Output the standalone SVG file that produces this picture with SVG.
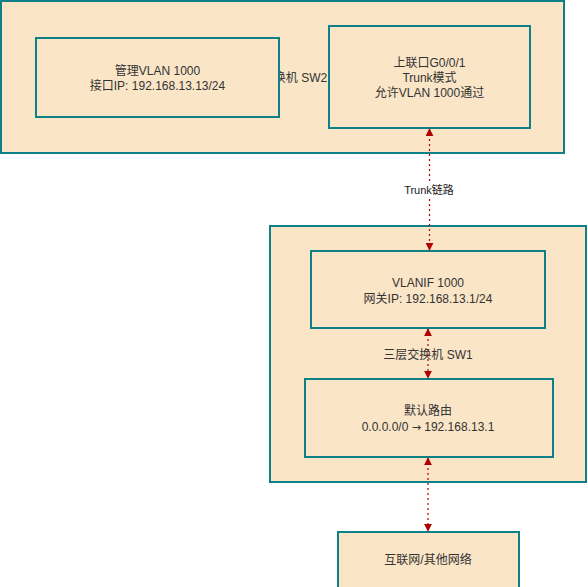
<svg xmlns="http://www.w3.org/2000/svg" width="588" height="587" viewBox="0 0 588 587">
<defs>
<style>
.box{fill:#fae5c7;stroke:#0e8088;stroke-width:2}
.t{font-family:"Liberation Sans","Noto Sans CJK SC",sans-serif;font-size:12px;fill:#333333;text-anchor:middle}
.lbl{font-family:"Liberation Sans","Noto Sans CJK SC",sans-serif;font-size:11px;fill:#1a1a1a;text-anchor:middle}
.c{stroke:#b20000;stroke-width:1.2;stroke-dasharray:2 3;fill:none}
</style>
<marker id="ah" viewBox="0 0 10 10" refX="9" refY="5" markerWidth="8" markerHeight="8" markerUnits="userSpaceOnUse" orient="auto-start-reverse">
<path d="M0,0 L10,5 L0,10 z" fill="#b20000"/>
</marker>
</defs>
<rect width="588" height="587" fill="#ffffff"/>
<g id="sw2">
<rect class="box" x="1" y="1" width="563" height="152"/>
<text class="t" x="282.5" y="82">二层交换机 SW2</text>
</g>
<g id="mgmt">
<rect class="box" x="36" y="38" width="243" height="79"/>
<text class="t" x="157.5" y="75">管理VLAN 1000</text>
<text class="t" x="157.5" y="90">接口IP: 192.168.13.13/24</text>
</g>
<g id="uplink">
<rect class="box" x="329" y="26" width="201" height="102"/>
<text class="t" x="429.5" y="67">上联口G0/0/1</text>
<text class="t" x="429.5" y="82">Trunk模式</text>
<text class="t" x="429.5" y="97">允许VLAN 1000通过</text>
</g>
<g id="sw1">
<rect class="box" x="270" y="226" width="316" height="256"/>
<text class="t" x="428" y="359">三层交换机 SW1</text>
</g>
<g id="vlanif">
<rect class="box" x="311" y="251" width="234" height="77"/>
<text class="t" x="428" y="287">VLANIF 1000</text>
<text class="t" x="428" y="303">网关IP: 192.168.13.1/24</text>
</g>
<g id="route">
<rect class="box" x="305" y="379" width="248" height="78"/>
<text class="t" x="428" y="415">默认路由</text>
<text class="t" x="428" y="431">0.0.0.0/0 <tspan font-family="DejaVu Sans" font-size="11px">→</tspan> 192.168.13.1</text>
</g>
<g id="internet">
<rect class="box" x="338" y="532" width="181" height="58"/>
<text class="t" x="428" y="564">互联网/其他网络</text>
</g>
<g id="connectors">
<line class="c" x1="429.5" y1="129" x2="429.5" y2="250" marker-start="url(#ah)" marker-end="url(#ah)"/>
<rect x="402" y="183" width="56" height="14" fill="#ffffff"/>
<text class="lbl" x="429" y="194">Trunk链路</text>
<line class="c" x1="428" y1="329" x2="428" y2="378" marker-start="url(#ah)" marker-end="url(#ah)"/>
<line class="c" x1="428" y1="458" x2="428" y2="531" marker-start="url(#ah)" marker-end="url(#ah)"/>
</g>
</svg>
